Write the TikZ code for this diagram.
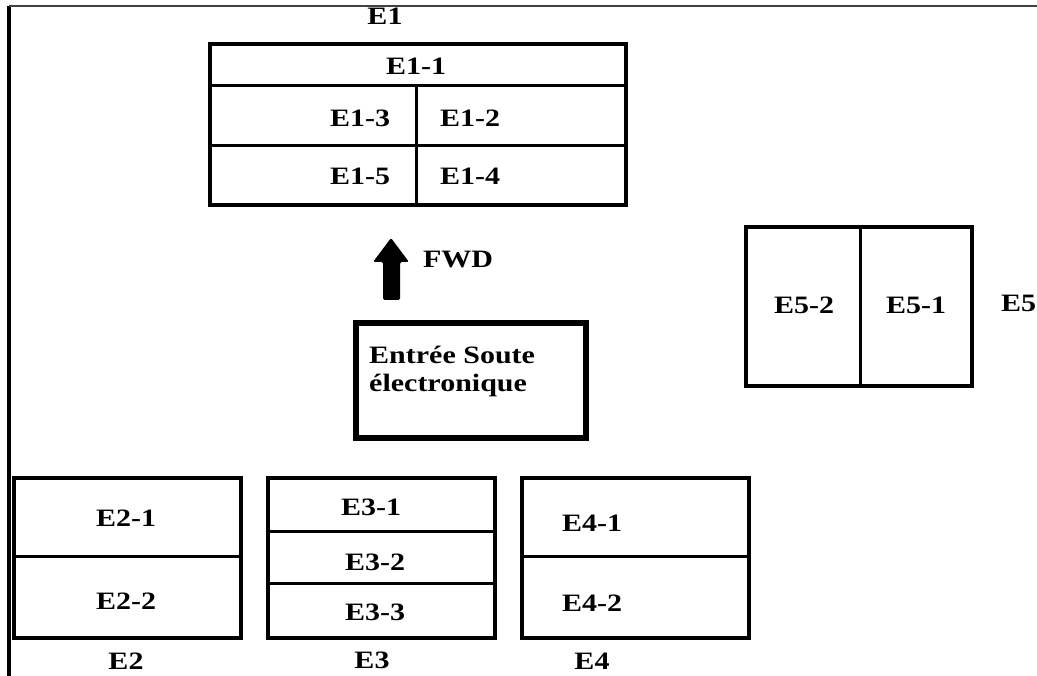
\documentclass[tikz,border=0pt]{standalone}
\usepackage{fontspec}
\usepackage{graphicx}
\setmainfont{Liberation Serif}
\usetikzlibrary{arrows.meta}
\newcommand{\wt}[1]{\scalebox{1.2}[1]{#1}}
\begin{document}
\begin{tikzpicture}[x=1pt,y=-1pt,
  lbl/.style={font=\bfseries\fontsize{25}{28}\selectfont, inner sep=0pt, anchor=center},
  boxline/.style={line width=3.5pt},
  divline/.style={line width=3pt}]
\useasboundingbox (0,0) rectangle (1037,676);
\clip (0,0) rectangle (1037,676);
% frame
\draw[line width=3.5pt] (9,676) -- (9,6);
\draw[line width=2pt, black!75] (9,6) -- (1037,6);
% E1
\node[lbl] (e1) at (385,16) {\wt{E1}};
\draw[boxline] (210,44) rectangle (626,205);
\draw[divline] (210,86) -- (626,86);
\draw[divline] (210,146) -- (626,146);
\draw[divline] (416,86) -- (416,205);
\node[lbl] (e11) at (416,66) {\wt{E1-1}};
\node[lbl] (e13) at (360,118) {\wt{E1-3}};
\node[lbl] (e12) at (470,118) {\wt{E1-2}};
\node[lbl] (e15) at (360,176) {\wt{E1-5}};
\node[lbl] (e14) at (470,176) {\wt{E1-4}};
% FWD arrow
\fill[rounded corners=1.5pt] (383,300) -- (383,262) -- (373,262) -- (391,238) -- (409,262) -- (400,262) -- (400,300) -- cycle;
\node[lbl] (fwd) at (458,260) {\wt{FWD}};
% Entrée box
\draw[line width=6pt] (356,323) rectangle (586,438);
\node[lbl, anchor=west, align=left] (entree) at (369,371) {\wt{Entrée Soute}\\\wt{électronique}};
% E5
\draw[boxline] (746,227) rectangle (972,386);
\draw[divline] (860,227) -- (860,386);
\node[lbl] (e52) at (804,305) {\wt{E5-2}};
\node[lbl] (e51) at (916,305) {\wt{E5-1}};
\node[lbl, anchor=west] (e5) at (1001,303) {\wt{E5}};
% E2
\draw[boxline] (14,478) rectangle (241,638);
\draw[divline] (14,556) -- (241,556);
\node[lbl] (e21) at (126,518) {\wt{E2-1}};
\node[lbl] (e22) at (126,601) {\wt{E2-2}};
\node[lbl] (e2) at (126,661) {\wt{E2}};
% E3
\draw[boxline] (268,478) rectangle (495,638);
\draw[divline] (268,531) -- (495,531);
\draw[divline] (268,583) -- (495,583);
\node[lbl] (e31) at (371,507) {\wt{E3-1}};
\node[lbl] (e32) at (375,562) {\wt{E3-2}};
\node[lbl] (e33) at (375,612) {\wt{E3-3}};
\node[lbl] (e3) at (372,660) {\wt{E3}};
% E4
\draw[boxline] (522,478) rectangle (749,638);
\draw[divline] (522,556) -- (749,556);
\node[lbl] (e41) at (592,523) {\wt{E4-1}};
\node[lbl] (e42) at (592,603) {\wt{E4-2}};
\node[lbl] (e4) at (592,661) {\wt{E4}};
\end{tikzpicture}
\end{document}
